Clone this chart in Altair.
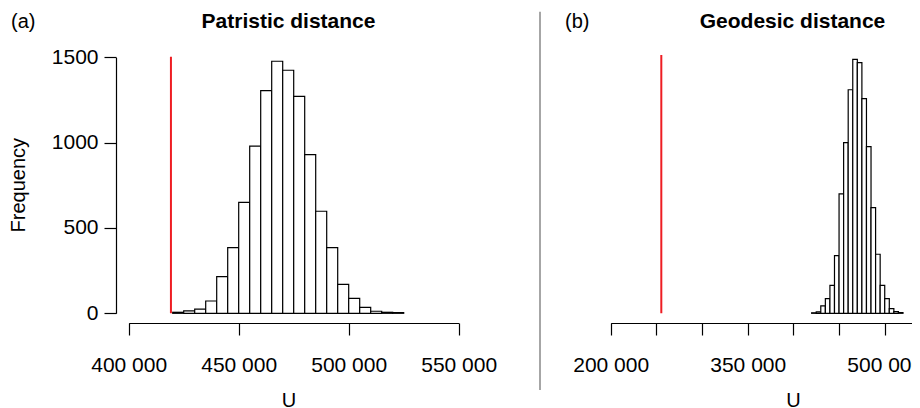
import altair as alt
import pandas as pd

# ---------------- data ----------------
bin_width = 5000
left_bin_start = 420000
left_counts = [6, 14, 25, 72, 215, 385, 650, 980, 1305, 1477, 1424,
               1271, 930, 598, 385, 170, 88, 35, 12, 6, 4]
right_bin_start = 420000
right_counts = [3, 8, 43, 86, 164, 338, 700, 1000, 1310, 1488,
                1469, 1258, 977, 619, 346, 164, 86, 27, 10, 4]
left_observed = [419200]
left_observed_top = [1503]
right_observed = [255400]
right_observed_top = [1513]
left_ticks = [400000, 450000, 500000, 550000]
right_ticks = [200000, 250000, 300000, 350000, 400000, 450000, 500000, 550000]
right_labelled = [200000, 350000, 500000]
y_ticks = [0, 500, 1000, 1500]
panel_letters = ["(a)", "(b)"]
panel_titles = ["Patristic distance", "Geodesic distance"]
x_title = "U"
y_title = "Frequency"

FONT = "Liberation Sans"


def hist_frame(start, counts):
    return pd.DataFrame({
        "U_start": [start + i * bin_width for i in range(len(counts))],
        "U_end": [start + (i + 1) * bin_width for i in range(len(counts))],
        "Frequency": counts,
    })


left_df = hist_frame(left_bin_start, left_counts)
right_df = hist_frame(right_bin_start, right_counts)
left_obs_df = pd.DataFrame({"U": left_observed, "lo": [0], "hi": left_observed_top})
right_obs_df = pd.DataFrame({"U": right_observed, "lo": [0], "hi": right_observed_top})

# ---------------- scales and axes ----------------
y_scale = alt.Scale(domain=[0, 1500], range=[305.3, 49.3], nice=False, zero=False)
y_axis = alt.Axis(values=y_ticks, format="d", orient="left", offset=-108, tickSize=12,
                  tickColor="black", tickWidth=1.2, domainColor="black",
                  domainWidth=1.2, labelFontSize=21, labelFont=FONT,
                  labelColor="black", labelPadding=6, labelOverlap=False,
                  grid=False, title=y_title, titleFontSize=20, titleFont=FONT,
                  titleFontWeight="normal", titleColor="black", titleX=-87.7,
                  titleY=176.7, titleAngle=270, titleBaseline="bottom",
                  titleAlign="center")

fmt = "replace(format(datum.value, ','), ',', ' ')"
right_cond = " || ".join(f"datum.value == {v}" for v in right_labelled)


def x_axis(values, label_expr, title_x):
    return alt.Axis(values=values, orient="bottom", offset=-85, tickSize=12,
                    tickColor="black", tickWidth=1.2, domainColor="black",
                    domainWidth=1.2, labelExpr=label_expr, labelFontSize=21,
                    labelFont=FONT, labelColor="black", labelPadding=36,
                    labelBaseline="alphabetic", labelFlush=False,
                    labelOverlap=False, grid=False, title=x_title,
                    titleX=title_x, titleY=83, titleBaseline="alphabetic",
                    titleAlign="center", titleAngle=0, titleFontSize=20,
                    titleFont=FONT, titleFontWeight="normal", titleColor="black")


left_x_scale = alt.Scale(domain=[400000, 550000], range=[120.7, 450.7], nice=False, zero=False)
right_x_scale = alt.Scale(domain=[200000, 550000], range=[602.7, 922.4], nice=False, zero=False)
left_x_axis = x_axis(left_ticks, fmt, 280.5)
right_x_axis = x_axis(right_ticks, f"({right_cond}) ? {fmt} : ''", 785)


def panel(df, obs_df, xs, xa):
    bars = alt.Chart(df).mark_rect(fill="white", stroke="black", strokeWidth=1.2).encode(
        x=alt.X("U_start:Q", scale=xs, axis=xa),
        x2="U_end:Q",
        y=alt.Y("Frequency:Q", scale=y_scale, axis=y_axis),
        y2=alt.datum(0),
    )
    rule = alt.Chart(obs_df).mark_rule(color="#ee1d23", strokeWidth=2).encode(
        x=alt.X("U:Q", scale=xs, axis=xa),
        y=alt.Y("lo:Q", scale=y_scale, axis=y_axis),
        y2="hi:Q",
    )
    return alt.layer(bars, rule)


left_panel = panel(left_df, left_obs_df, left_x_scale, left_x_axis)
right_panel = panel(right_df, right_obs_df, right_x_scale, right_x_axis)

one = pd.DataFrame({"k": [0]})


def label(text, x, y, bold=False, align="center", size=21):
    return alt.Chart(one).mark_text(
        font=FONT, fontSize=size, fontWeight="bold" if bold else "normal",
        align=align, baseline="alphabetic", color="black",
    ).encode(x=alt.value(x), y=alt.value(y), text=alt.value(text))


annotations = [
    label(panel_letters[0], 3, 20, align="left", size=20),
    label(panel_titles[0], 280.5, 20.3, bold=True),
    label(panel_letters[1], 557, 20, align="left", size=20),
    label(panel_titles[1], 784.5, 20.3, bold=True),
]

separator = alt.Chart(one).mark_rule(color="#888888", strokeWidth=1.5).encode(
    x=alt.value(532), y=alt.value(3.7), y2=alt.value(382)
)

chart = alt.layer(left_panel, right_panel, separator, *annotations).resolve_scale(
    x="independent"
).resolve_axis(
    x="independent"
).properties(
    width=904, height=400, padding=0,
    autosize=alt.AutoSizeParams(type="none"),
    background="white",
).configure_view(stroke=None)

chart.save("out.html", embed_options={"renderer": "svg", "actions": False})
